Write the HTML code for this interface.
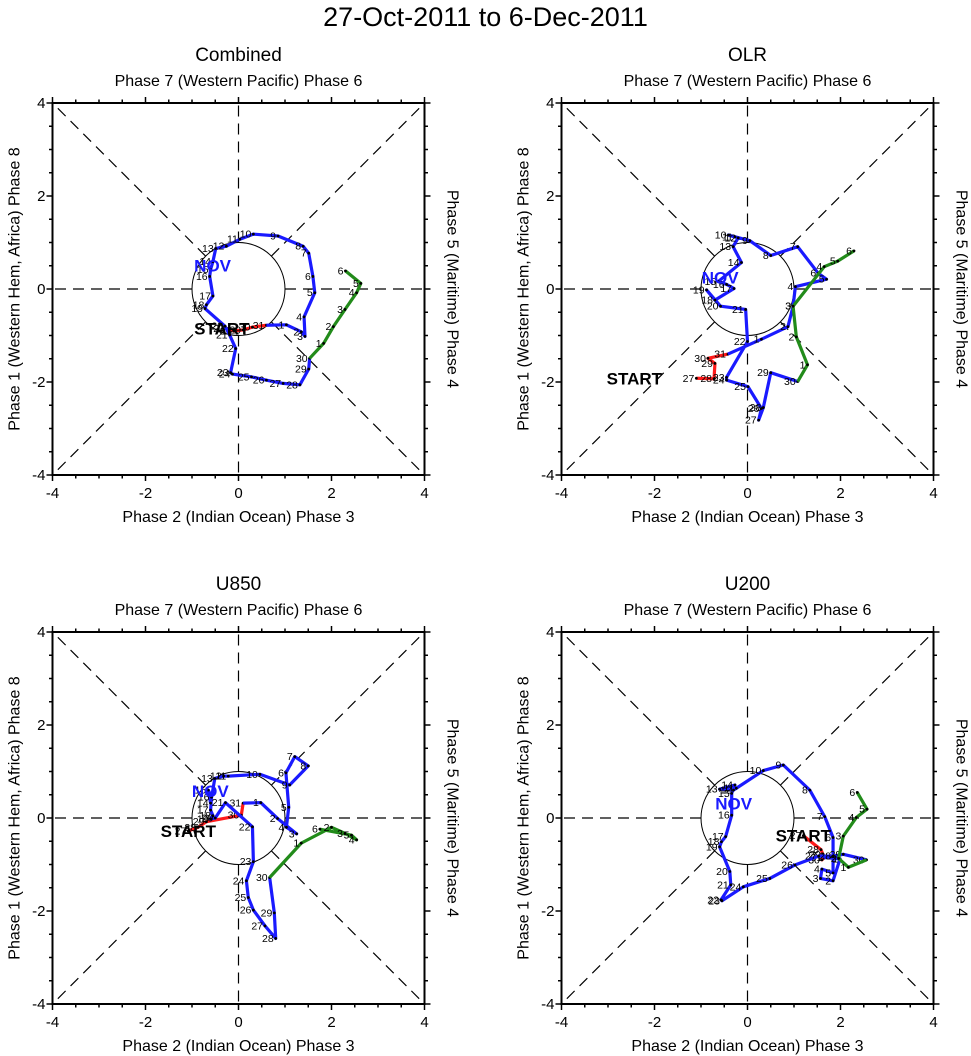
<!DOCTYPE html>
<html><head><meta charset="utf-8">
<style>
html,body{margin:0;padding:0;background:#fff;}
svg{display:block;font-family:"Liberation Sans",Arial,sans-serif;}
</style></head>
<body>
<svg id="chart" width="971" height="1056" viewBox="0 0 971 1056" xmlns="http://www.w3.org/2000/svg">
<rect width="971" height="1056" fill="#fff"/>
<text x="485.5" y="26" font-size="27" text-anchor="middle">27-Oct-2011 to 6-Dec-2011</text>
</svg>
<script>
// ---- data (RMM1 = x, RMM2 = y) ----
const panelTitles = ["Combined", "OLR", "U850", "U200"];
const tickValues = [-4, -2, 0, 2, 4];
const tickLabels = ["-4", "-2", "0", "2", "4"];

const combinedOctX = [-0.25,-0.1,0.1,0.3,0.6];
const combinedOctY = [-0.85,-0.9,-0.88,-0.82,-0.78];
const combinedNovX = [1.03,1.35,1.43,1.41,1.64,1.6,1.51,1.39,0.85,0.32,0.03,-0.26,-0.49,-0.55,-0.6,-0.62,-0.55,-0.69,-0.72,-0.29,-0.19,-0.06,-0.17,-0.13,0.28,0.6,0.96,1.32,1.51,1.53];
const combinedNovY = [-0.77,-0.92,-1.02,-0.6,-0.08,0.27,0.77,0.92,1.14,1.18,1.07,0.92,0.87,0.59,0.42,0.27,-0.15,-0.34,-0.42,-0.8,-0.99,-1.28,-1.8,-1.83,-1.89,-1.96,-2.03,-2.06,-1.72,-1.49];
const combinedDecX = [1.83,2.04,2.29,2.54,2.63,2.3];
const combinedDecY = [-1.17,-0.81,-0.44,-0.08,0.12,0.39];

const olrOctX = [-1.1,-0.72,-0.7,-0.85,-0.42];
const olrOctY = [-1.92,-1.93,-1.6,-1.49,-1.4];
const olrNovX = [0.3,0.87,0.98,1.03,1.7,1.52,1.08,0.5,0.05,-0.41,-0.27,-0.2,-0.31,-0.13,-0.63,-0.45,-0.29,-0.7,-0.88,-0.58,-0.04,0,-0.45,-0.45,0.01,0.3,0.24,0.34,0.5,1.08];
const olrNovY = [-1.08,-0.81,-0.37,0.05,0.21,0.34,0.91,0.72,1.04,1.16,1.12,1.1,0.91,0.57,0.16,0.1,0.01,-0.24,-0.02,-0.37,-0.44,-1.13,-1.9,-1.96,-2.1,-2.57,-2.82,-2.55,-1.8,-1.99];
const olrDecX = [1.29,1.05,0.98,1.65,1.94,2.29];
const olrDecY = [-1.63,-1.03,-0.37,0.48,0.6,0.82];

const u850OctX = [-1.08,-0.87,-0.69,0.06,0.1];
const u850OctY = [-0.28,-0.2,-0.08,0.06,0.32];
const u850NovX = [0.48,0.84,1.25,1.03,1.08,1.02,1.21,1.5,1.1,0.46,-0.22,-0.32,-0.51,-0.6,-0.65,-0.58,-0.6,-0.55,-0.6,-0.5,-0.28,0.3,0.32,0.17,0.21,0.32,0.57,0.8,0.77,0.67];
const u850NovY = [0.33,-0.01,-0.34,-0.2,0.23,0.97,1.32,1.12,0.71,0.94,0.9,0.9,0.85,0.32,0.6,0.45,0.17,0.05,-0.02,0.0,0.33,-0.19,-0.94,-1.35,-1.71,-1.98,-2.32,-2.59,-2.04,-1.28];
const u850DecX = [1.35,2.0,2.29,2.54,2.43,1.75];
const u850DecY = [-0.54,-0.2,-0.33,-0.47,-0.37,-0.24];

const u200OctX = [1.2,1.58,1.62,1.6,1.65];
const u200OctY = [-0.38,-0.68,-0.78,-0.9,-0.85];
const u200NovX = [1.99,1.84,1.57,1.6,1.84,1.84,1.66,1.34,0.77,0.34,-0.24,-0.3,-0.6,-0.27,-0.34,-0.34,-0.47,-0.56,-0.6,-0.38,-0.36,-0.57,-0.55,-0.09,0.48,1.02,1.53,1.84,2.06,2.56];
const u200NovY = [-0.88,-1.35,-1.3,-1.1,-1.18,-0.42,0.03,0.6,1.14,1.02,0.64,0.6,0.62,0.71,0.53,0.06,-0.4,-0.51,-0.62,-1.15,-1.44,-1.76,-1.78,-1.48,-1.3,-1.01,-0.82,-0.82,-0.78,-0.9];
const u200DecX = [2.17,1.96,2.06,2.34,2.57,2.36];
const u200DecY = [-1.06,-0.87,-0.39,0.01,0.19,0.55];

const octDays = [27,28,29,30,31];

// ---- drawing ----
const NS = "http://www.w3.org/2000/svg";
const svg = document.getElementById("chart");
function mk(tag, attrs, parent) {
  const e = document.createElementNS(NS, tag);
  for (const k in attrs) e.setAttribute(k, attrs[k]);
  (parent || svg).appendChild(e);
  return e;
}
const S = 46.5;
const panels = [
  {cx:238.5, cy:289, oX:combinedOctX, oY:combinedOctY, nX:combinedNovX, nY:combinedNovY, dX:combinedDecX, dY:combinedDecY, start:[-5,0], nov:[0,0]},
  {cx:747.5, cy:289, oX:olrOctX, oY:olrOctY, nX:olrNovX, nY:olrNovY, dX:olrDecX, dY:olrDecY, start:[-62,0], nov:[0,0]},
  {cx:238.5, cy:818, oX:u850OctX, oY:u850OctY, nX:u850NovX, nY:u850NovY, dX:u850DecX, dY:u850DecY, start:[0,0], nov:[0,5]},
  {cx:747.5, cy:818, oX:u200OctX, oY:u200OctY, nX:u200NovX, nY:u200NovY, dX:u200DecX, dY:u200DecY, start:[0,0], nov:[0,14]}
];

panels.forEach((p, i) => {
  const g = mk("g", {});
  
  
  const xs = v => p.cx + v * S;
  const ys = v => p.cy - v * S;
  const L = xs(-4), R = xs(4), T = ys(4), B = ys(-4);

  const d = 1 / Math.SQRT2;
  const guides = [[0,1,0,4],[0,-1,0,-4],[1,0,4,0],[-1,0,-4,0],[d,d,4,4],[-d,d,-4,4],[d,-d,4,-4],[-d,-d,-4,-4]];
  guides.forEach(gl => {
    const ln = mk("line", {x1:xs(gl[0]), y1:ys(gl[1]), x2:xs(gl[2]), y2:ys(gl[3]), stroke:"#000", "stroke-width":1.2, "stroke-dasharray":"11,7"}, g);
    
    
  });
  const c = mk("circle", {cx:p.cx, cy:p.cy, r:S, fill:"none", stroke:"#000", "stroke-width":1}, g);
  
  

  const fr = mk("rect", {x:L, y:T, width:R-L, height:B-T, fill:"none", stroke:"#000", "stroke-width":2}, g);
  
  
  for (let v = -4; v <= 4.001; v += 0.5) {
    const major = Math.abs(v % 2) < 0.01;
    const len = major ? 6 : 3.5;
    mk("line", {x1:xs(v), y1:B, x2:xs(v), y2:B+len, stroke:"#000", "stroke-width":1.5}, g);
    mk("line", {x1:xs(v), y1:T, x2:xs(v), y2:T-len, stroke:"#000", "stroke-width":1.5}, g);
    mk("line", {x1:L, y1:ys(v), x2:L-len, y2:ys(v), stroke:"#000", "stroke-width":1.5}, g);
    mk("line", {x1:R, y1:ys(v), x2:R+len, y2:ys(v), stroke:"#000", "stroke-width":1.5}, g);
  }
  tickValues.forEach((v, k) => {
    const tx = mk("text", {x:xs(v), y:B+23, "font-size":15, "text-anchor":"middle"}, g);
    
    
    tx.textContent = tickLabels[k];
    const ty = mk("text", {x:L-7, y:ys(v)+5, "font-size":15, "text-anchor":"end"}, g);
    
    
    ty.textContent = tickLabels[k];
  });

  const t = mk("text", {x:p.cx, y:T-42, "font-size":19, "text-anchor":"middle"}, g);
  
  
  t.textContent = panelTitles[i];
  const tt = mk("text", {x:p.cx, y:T-17, "font-size":16, "text-anchor":"middle"}, g);
  
  
  tt.textContent = "Phase 7 (Western Pacific) Phase 6";
  const bt = mk("text", {x:p.cx, y:B+47, "font-size":16, "text-anchor":"middle"}, g);
  
  
  bt.textContent = "Phase 2 (Indian Ocean) Phase 3";
  const lt = mk("text", {x:0, y:0, "font-size":16, "text-anchor":"middle", transform:`translate(${L-33},${p.cy}) rotate(-90)`}, g);
  
  
  lt.textContent = "Phase 1 (Western Hem, Africa) Phase 8";
  const rt = mk("text", {x:0, y:0, "font-size":16, "text-anchor":"middle", transform:`translate(${R+23},${p.cy}) rotate(90)`}, g);
  
  
  rt.textContent = "Phase 5 (Maritime) Phase 4";

  function series(X, Y, prevX, prevY, color, name, days) {
    const pts = [];
    if (prevX !== null) pts.push([xs(prevX), ys(prevY)]);
    X.forEach((v, k) => pts.push([xs(v), ys(Y[k])]));
    const pl = mk("polyline", {points:pts.map(q => q.join(",")).join(" "), fill:"none", stroke:color, "stroke-width":3.2, "stroke-linejoin":"round"}, g);
    
    
    X.forEach((v, k) => {
      const dot = mk("circle", {cx:xs(v), cy:ys(Y[k]), r:1.4, fill:"#000"}, g);
      
      
      const lb = mk("text", {x:xs(v)-2, y:ys(Y[k])+3.5, "font-size":10.5, "text-anchor":"end"}, g);
      
      
      lb.textContent = days[k];
    });
  }
  const n = p.nX.length, o = p.oX.length;
  series(p.oX, p.oY, null, null, "#ff1a1a", "october", octDays);
  series(p.nX, p.nY, p.oX[o-1], p.oY[o-1], "#1a1aff", "november", p.nX.map((_, k) => k + 1));
  series(p.dX, p.dY, p.nX[n-1], p.nY[n-1], "#228b1a", "december", p.dX.map((_, k) => k + 1));

  const st = mk("text", {x:xs(p.oX[0]) + p.start[0], y:ys(p.oY[0]) + 6 + p.start[1], "font-size":17, "font-weight":"bold", "text-anchor":"middle"}, g);
  
  
  st.textContent = "START";
  const nv = mk("text", {x:xs(p.nX[14]) + 2 + p.nov[0], y:ys(p.nY[14]) + 2 + p.nov[1], "font-size":17, "font-weight":"bold", fill:"#1a1aff", "text-anchor":"middle"}, g);
  
  
  nv.textContent = "NOV";
});
</script>
</body></html>
